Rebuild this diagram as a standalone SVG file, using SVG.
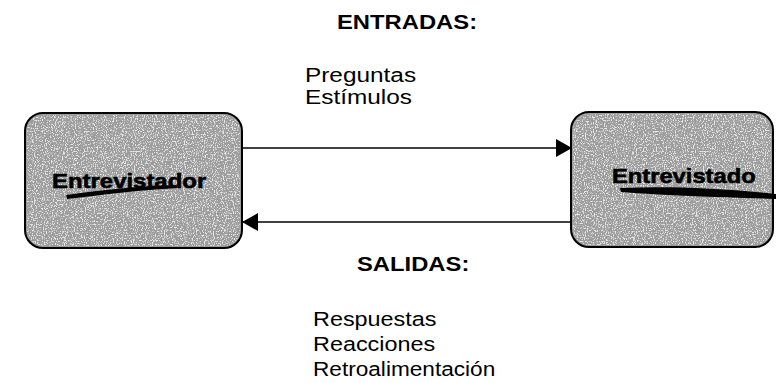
<svg xmlns="http://www.w3.org/2000/svg" width="776" height="383" viewBox="0 0 776 383">
  <style>
    .hdr { font-family: "Liberation Sans", Arial, sans-serif; font-weight: bold; font-size: 19.5px; fill: #000; }
    .lst { font-family: "Liberation Sans", Arial, sans-serif; font-size: 19.5px; fill: #000; }
    .lbl { font-family: "Liberation Sans", Arial, sans-serif; font-weight: bold; font-size: 21px; fill: #000; stroke: #000; stroke-width: 0.6; }
    .box { fill: #9c9c9c; stroke: #000; stroke-width: 2; }
    .tex { fill: #fff; filter: url(#noise); opacity: 0.75; }
    .conn { stroke: #000; stroke-width: 1.5; fill: none; }
    .scrib { fill: #000; }
  </style>
  <defs>
    <filter id="noise" x="0" y="0" width="100%" height="100%">
      <feTurbulence type="fractalNoise" baseFrequency="0.9 0.7" numOctaves="2" seed="4" result="t"/>
      <feColorMatrix in="t" type="matrix" values="0 0 0 0 1  0 0 0 0 1  0 0 0 0 1  0 0 0 6 -3" result="m"/>
      <feComposite in="m" in2="SourceGraphic" operator="in"/>
    </filter>
    <marker id="ah" markerWidth="16" markerHeight="18" refX="15" refY="9" orient="auto" markerUnits="userSpaceOnUse">
      <path d="M0,0 L16,9 L0,18 Z" fill="#000"/>
    </marker>
  </defs>
  <rect width="776" height="383" fill="#fff"/>

  <text class="hdr" transform="translate(337,29) scale(1.22,1)">ENTRADAS:</text>
  <text class="lst" transform="translate(305,82) scale(1.25,1)">Preguntas</text>
  <text class="lst" transform="translate(305,104) scale(1.25,1)">Estímulos</text>

  <text class="hdr" transform="translate(357,271) scale(1.22,1)">SALIDAS:</text>
  <text class="lst" transform="translate(313,326) scale(1.2,1)">Respuestas</text>
  <text class="lst" transform="translate(313,351) scale(1.2,1)">Reacciones</text>
  <text class="lst" transform="translate(313,376) scale(1.16,1)">Retroalimentación</text>

  <g id="entrevistador">
    <rect class="box" x="25" y="113" width="217" height="135" rx="18" ry="18"/>
    <rect class="tex" x="27" y="115" width="213" height="131" rx="16" ry="16"/>
    <text class="lbl" transform="translate(52,188) scale(1.14,1)">Entrevistador</text>
    <path class="scrib" d="M66,195 C100,190 140,186 176,185 L177,188 C140,190 100,195 67,199 Z"/>
  </g>

  <g id="entrevistado">
    <rect class="box" x="571" y="112" width="202" height="135" rx="18" ry="18"/>
    <rect class="tex" x="573" y="114" width="198" height="131" rx="16" ry="16"/>
    <text class="lbl" transform="translate(612,183) scale(1.13,1)">Entrevistado</text>
    <path class="scrib" d="M620,188 C670,186 720,188 776,194 L776,199 C720,197 670,196 621,192 Z"/>
  </g>

  <g id="connectors">
    <line class="conn" x1="243" y1="148" x2="571" y2="148" marker-end="url(#ah)"/>
    <line class="conn" x1="571" y1="222" x2="243" y2="222" marker-end="url(#ah)"/>
  </g>
</svg>
